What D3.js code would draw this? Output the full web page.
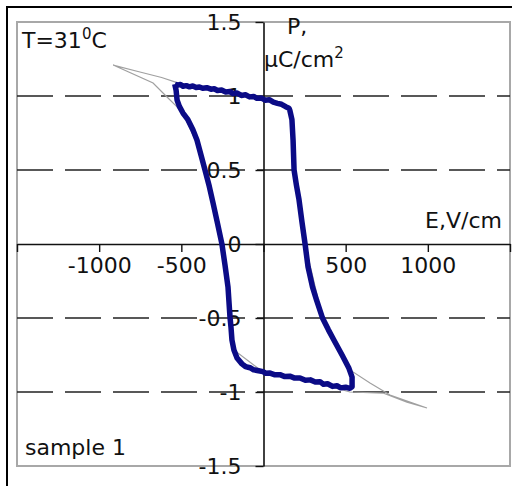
<!DOCTYPE html>
<html>
<head>
<meta charset="utf-8">
<script src="https://cdn.jsdelivr.net/npm/d3@7"></script>
<style>
  html, body { margin: 0; padding: 0; background: #fff; }
  svg { display: block; }
  text { font-family: "DejaVu Sans", Verdana, sans-serif; fill: #111; }
</style>
</head>
<body>
<svg id="chart" width="512" height="486"></svg>
<script>
// Axis ticks (E in V/cm, P in uC/cm^2)
const eTicks = [-1500, -1000, -500, 0, 500, 1000, 1500];
const eLabelled = [-1000, -500, 500, 1000];
const pTicks = [-1.5, -1, -0.5, 0, 0.5, 1, 1.5];
const pGrid = [-1, -0.5, 0.5, 1];

// Measured hysteresis loop (sample 1, T = 31 C), traced clockwise
const loopE = [-540, -525, -505, -490, -470, -450, -430, -410, -390, -370, -345, -320, -300, -280, -255, -230, -205, -185, -160, -135, -110, -85, -60, -40, -15, 10, 35, 60, 85, 110, 135, 155,
  161, 173, 180, 186, 200, 216, 234, 253, 271, 298, 323, 359, 395, 429, 478, 520, 539, 539,
  526, 500, 470, 447, 420, 390, 365, 344, 315, 285, 255, 222, 190, 160, 130, 100, 70, 40, 15, -3, -30, -60, -82, -110, -131, -161, -180, -192, -198, -204, -216, -234, -253, -280, -307, -330, -356, -380, -405, -429, -460, -490, -512, -526, -532, -540];
const loopP = [1.08, 1.072, 1.078, 1.066, 1.07, 1.062, 1.068, 1.058, 1.061, 1.052, 1.056, 1.046, 1.049, 1.037, 1.04, 1.027, 1.03, 1.016, 1.02, 1.004, 1.008, 0.994, 0.997, 0.984, 0.987, 0.972, 0.975, 0.958, 0.95, 0.944, 0.928, 0.918,
  0.9, 0.84, 0.7, 0.5, 0.4, 0.3, 0.15, 0, -0.155, -0.29, -0.38, -0.5, -0.58, -0.65, -0.75, -0.84, -0.9, -0.965,
  -0.975, -0.968, -0.972, -0.958, -0.962, -0.944, -0.948, -0.93, -0.932, -0.918, -0.921, -0.905, -0.906, -0.893, -0.896, -0.883, -0.884, -0.872, -0.874, -0.862, -0.856, -0.85, -0.836, -0.828, -0.81, -0.77, -0.716, -0.649, -0.56, -0.493, -0.291, -0.145, 0, 0.14, 0.277, 0.39, 0.5, 0.6, 0.703, 0.77, 0.84, 0.885, 0.93, 0.973, 1.04, 1.08];

// Higher-field reference loop (thin grey)
const refE = [-915, -752, -620, -526, -400, 0, 150, 175, 186, 253, 359, 478, 526, 648, 770, 995, 873, 727, 526, 222, -3, -180, -253, -374, -490, -526, -587, -672, -915];
const refP = [1.209, 1.162, 1.125, 1.09, 1.06, 0.975, 0.92, 0.8, 0.5, 0, -0.5, -0.75, -0.851, -0.939, -1.02, -1.108, -1.068, -1.007, -1.0, -0.905, -0.865, -0.716, 0, 0.6, 0.885, 0.926, 0.993, 1.088, 1.209];

const svg = d3.select("#chart");
const x = d3.scaleLinear().domain([-1500, 1500]).range([17, 510]);
const y = d3.scaleLinear().domain([-1.5, 1.5]).range([466, 22]);

// outer frame (top and left edges)
svg.append("path").attr("d", "M7,486V7H512").attr("fill", "none")
  .attr("stroke", "#000").attr("stroke-width", 2);

// plot area border
svg.append("rect").attr("x", 17).attr("y", 22).attr("width", 493).attr("height", 444)
  .attr("fill", "#fff").attr("stroke", "#a8a8a8").attr("stroke-width", 2);

// dashed grid lines
svg.append("g").selectAll("line").data(pGrid).join("line")
  .attr("x1", 17).attr("x2", 510)
  .attr("y1", d => y(d)).attr("y2", d => y(d))
  .attr("stroke", "#222").attr("stroke-width", 1.5)
  .attr("stroke-dasharray", "36,12");

// axes through the origin
const xAxis = d3.axisBottom(x).tickValues(eTicks).tickSize(8).tickSizeOuter(0)
  .tickFormat(d => eLabelled.includes(d) ? String(d) : "");
const gx = svg.append("g").attr("transform", `translate(0,${y(0)})`).call(xAxis);
gx.select(".domain").attr("stroke", "#111").attr("stroke-width", 1.6);
gx.selectAll(".tick line").attr("stroke", "#111").attr("stroke-width", 1.4);
gx.selectAll(".tick text").attr("font-size", 22).attr("font-family", "DejaVu Sans")
  .attr("y", 12).attr("dy", "0.79em").attr("fill", "#111");

const yAxis = d3.axisLeft(y).tickValues(pTicks).tickSize(8).tickSizeOuter(0).tickPadding(14)
  .tickFormat(d => String(d));
const gy = svg.append("g").attr("transform", `translate(${x(0)},0)`).call(yAxis);
gy.select(".domain").attr("stroke", "#111").attr("stroke-width", 1.6);
gy.selectAll(".tick line").attr("stroke", "#111").attr("stroke-width", 1.4);
gy.selectAll(".tick text").attr("font-size", 22).attr("font-family", "DejaVu Sans")
  .attr("dy", "0.36em").attr("fill", "#111");

// loops
const line = d3.line().x(d => x(d[0])).y(d => y(d[1]));
svg.append("path").datum(d3.zip(refE, refP)).attr("d", line)
  .attr("fill", "none").attr("stroke", "#a0a0a0").attr("stroke-width", 1.2);
svg.append("path").datum(d3.zip(loopE, loopP)).attr("d", line)
  .attr("fill", "none").attr("stroke", "#0b0b86").attr("stroke-width", 5.5)
  .attr("stroke-linejoin", "round");

// captions
const t = svg.append("text").attr("x", 22).attr("y", 48).attr("font-size", 22);
t.append("tspan").text("T=31");
t.append("tspan").attr("font-size", 15).attr("dy", -9).text("0");
t.append("tspan").attr("dy", 9).text("C");

svg.append("text").attr("x", 287).attr("y", 34).attr("font-size", 22).text("P,");
const u = svg.append("text").attr("x", 264).attr("y", 67).attr("font-size", 22);
u.append("tspan").text("µC/cm");
u.append("tspan").attr("font-size", 15).attr("dy", -9).text("2");

svg.append("text").attr("x", 502).attr("y", 228).attr("font-size", 22)
  .attr("text-anchor", "end").text("E,V/cm");
svg.append("text").attr("x", 25).attr("y", 455).attr("font-size", 22).text("sample 1");
</script>
</body>
</html>
